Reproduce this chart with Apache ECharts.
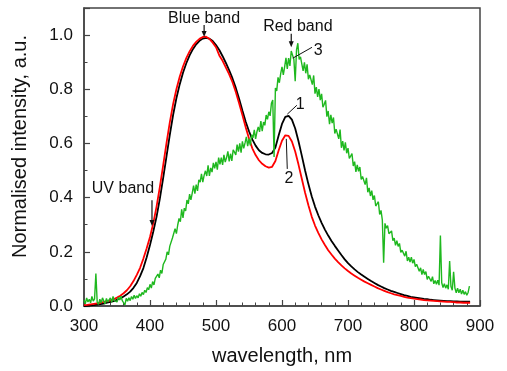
<!DOCTYPE html>
<html>
<head>
<meta charset="utf-8">
<script src="https://cdn.jsdelivr.net/npm/echarts@6/dist/echarts.min.js"></script>
<style>
  html, body { margin: 0; padding: 0; background: #fff; }
  #chart { width: 507px; height: 371px; }
</style>
</head>
<body>
<div id="chart"></div>
<script>
// Spectra 1 and 2: sampled every 5 nm from 300 to 885 nm
const bandStart = 300;
const bandStep = 5;

// Spectrum 1 (black)
const spectrum1 = [
  0.000,0.001,0.002,0.003,0.005,0.007,0.009,0.012,0.015,0.018,   // 300-345
  0.023,0.028,0.035,0.043,0.053,0.067,0.085,0.110,0.140,0.180,   // 350-395
  0.225,0.275,0.330,0.397,0.473,0.552,0.632,0.705,0.767,0.818,   // 400-445
  0.861,0.896,0.925,0.948,0.966,0.979,0.987,0.990,0.987,0.978,   // 450-495
  0.963,0.945,0.922,0.897,0.870,0.840,0.805,0.765,0.722,0.680,   // 500-545
  0.645,0.615,0.592,0.575,0.565,0.560,0.559,0.565,0.585,0.630,   // 550-595
  0.672,0.698,0.702,0.688,0.655,0.608,0.555,0.500,0.450,0.405,   // 600-645
  0.367,0.335,0.307,0.282,0.260,0.240,0.222,0.205,0.188,0.172,   // 650-695
  0.158,0.146,0.135,0.125,0.116,0.108,0.100,0.092,0.085,0.078,   // 700-745
  0.072,0.066,0.061,0.056,0.052,0.048,0.044,0.040,0.037,0.034,   // 750-795
  0.032,0.030,0.028,0.026,0.025,0.023,0.022,0.021,0.020,0.019,   // 800-845
  0.018,0.018,0.017,0.017,0.016,0.016,0.016,0.016                // 850-885
];

// Spectrum 2 (red)
const spectrum2 = [
  0.003,0.004,0.006,0.008,0.010,0.012,0.015,0.018,0.021,0.025,   // 300-345
  0.031,0.038,0.047,0.058,0.073,0.092,0.115,0.141,0.175,0.213,   // 350-395
  0.255,0.306,0.368,0.441,0.520,0.601,0.678,0.745,0.800,0.846,   // 400-445
  0.884,0.915,0.940,0.960,0.975,0.986,0.993,0.994,0.986,0.972,   // 450-495
  0.955,0.925,0.905,0.880,0.855,0.826,0.790,0.748,0.705,0.660,   // 500-545
  0.618,0.582,0.557,0.538,0.525,0.516,0.511,0.514,0.535,0.575,   // 550-595
  0.610,0.630,0.628,0.607,0.570,0.522,0.470,0.418,0.372,0.330,   // 600-645
  0.297,0.270,0.246,0.225,0.206,0.190,0.175,0.162,0.150,0.139,   // 650-695
  0.129,0.120,0.112,0.104,0.097,0.090,0.084,0.078,0.072,0.066,   // 700-745
  0.061,0.056,0.051,0.047,0.043,0.040,0.037,0.034,0.031,0.029,   // 750-795
  0.027,0.025,0.024,0.022,0.021,0.020,0.019,0.018,0.017,0.016,   // 800-845
  0.015,0.015,0.014,0.013,0.013,0.012,0.012,0.012                // 850-885
];

// Spectrum 3 (green, noisy): sampled every 2 nm from 300 to 884 nm
const green3Start = 300;
const green3Step = 2;
const spectrum3 = [
  0.022,0.008,0.030,0.015,0.025,  0.012,0.035,0.018,0.026,0.120,   // 300-318
  0.014,0.006,0.025,0.012,0.030,  0.018,0.008,0.028,0.015,0.022,   // 320-338
  0.030,0.014,0.035,0.020,0.026,  0.015,0.032,0.022,0.036,0.020,   // 340-358
  0.012,0.004,0.028,0.018,0.030,  0.020,0.035,0.025,0.040,0.028,   // 360-378
  0.038,0.030,0.045,0.036,0.050,  0.042,0.058,0.050,0.068,0.060,   // 380-398
  0.080,0.066,0.090,0.078,0.102,  0.095,0.118,0.104,0.132,0.120,   // 400-418
  0.153,0.147,0.173,0.200,0.189,  0.221,0.214,0.251,0.254,0.285,   // 420-438
  0.267,0.299,0.323,0.311,0.357,  0.325,0.361,0.351,0.391,0.377,   // 440-458
  0.413,0.392,0.417,0.444,0.415,  0.448,0.425,0.466,0.457,0.488,   // 460-478
  0.457,0.482,0.499,0.480,0.519,  0.480,0.510,0.494,0.528,0.508,   // 480-498
  0.532,0.503,0.548,0.523,0.548,  0.521,0.558,0.531,0.548,0.571,   // 500-518
  0.534,0.562,0.536,0.576,0.568,  0.558,0.596,0.570,0.600,0.566,   // 520-538
  0.608,0.582,0.602,0.624,0.590,  0.618,0.593,0.632,0.621,0.650,   // 540-558
  0.617,0.643,0.661,0.643,0.683,  0.645,0.679,0.667,0.705,0.689,   // 560-578
  0.717,0.702,0.748,0.760,0.550,  0.805,0.794,0.844,0.824,0.858,   // 580-598
  0.883,0.853,0.883,0.916,0.875,  0.915,0.886,0.941,0.940,0.910,   // 600-618
  0.830,0.945,0.970,0.910,0.920,  0.915,0.868,0.899,0.859,0.892,   // 620-638
  0.837,0.853,0.858,0.817,0.851,  0.784,0.808,0.772,0.801,0.760,   // 640-658
  0.783,0.734,0.745,0.759,0.699,  0.720,0.671,0.706,0.675,0.696,   // 660-678
  0.637,0.653,0.658,0.617,0.651,  0.584,0.609,0.574,0.604,0.564,   // 680-698
  0.583,0.545,0.553,0.563,0.517,  0.533,0.495,0.521,0.497,0.513,   // 700-718
  0.467,0.478,0.481,0.448,0.473,  0.420,0.436,0.406,0.426,0.392,   // 720-738
  0.408,0.369,0.376,0.385,0.338,  0.353,0.318,0.160,0.305,0.287,   // 740-758
  0.297,0.267,0.273,0.277,0.241,  0.251,0.224,0.241,0.220,0.231,   // 760-778
  0.198,0.206,0.208,0.184,0.202,  0.166,0.180,0.162,0.180,0.158,   // 780-798
  0.172,0.145,0.154,0.159,0.128,  0.141,0.116,0.135,0.116,0.127,   // 800-818
  0.098,0.110,0.113,0.091,0.108,  0.082,0.094,0.080,0.095,0.077,   // 820-838
  0.260,0.086,0.068,0.082,0.066,  0.078,0.062,0.166,0.072,0.058,   // 840-858
  0.126,0.066,0.049,0.066,0.049,  0.062,0.044,0.058,0.043,0.053,   // 860-878
  0.040,0.050,0.073                                                // 880-884
];

// Axis ranges and tick spacing
const xTicks = { min: 300, max: 900, step: 100 };
const yTicks = { min: 0, max: 1.1, step: 0.2 };

// Annotations in data units: text anchors, arrows and leader lines
const bandLabels = [
  { text: 'Blue band', at: [482, 1.061] },
  { text: 'Red band', at: [624, 1.032] },
  { text: 'UV band', at: [359, 0.432] },
  { text: '3', at: [655, 0.944] },
  { text: '1', at: [627.5, 0.744] },
  { text: '2', at: [610.5, 0.47] }
];
const bandArrows = [
  { from: [482, 1.037], to: [482, 0.993] },
  { from: [614, 1.005], to: [614, 0.955] },
  { from: [403, 0.39], to: [403, 0.295] }
];
const leaderLines = [
  { from: [645.5, 0.955], to: [616.5, 0.915] },
  { from: [622.5, 0.741], to: [608, 0.708] },
  { from: [606.5, 0.617], to: [608, 0.506] }
];

const sampled = (start, step, ys) => ys.map((v, i) => [start + i * step, v]);

const FONT = '"Liberation Sans", Arial, sans-serif';
const AXIS_COLOR = '#444';

const chart = echarts.init(document.getElementById('chart'), null, { renderer: 'canvas' });

const option = {
  animation: false,
  backgroundColor: '#fff',
  grid: {
    left: 84, right: 27, top: 8, bottom: 59,
    show: true, borderColor: AXIS_COLOR, borderWidth: 1.5, backgroundColor: 'transparent'
  },
  xAxis: {
    type: 'value',
    min: xTicks.min, max: xTicks.max, interval: xTicks.step,
    name: 'wavelength, nm',
    nameLocation: 'middle',
    nameGap: 40,
    nameTextStyle: { fontFamily: FONT, fontSize: 20, color: '#111' },
    axisLine: { show: true, lineStyle: { color: AXIS_COLOR, width: 1.5 } },
    axisTick: { show: true, inside: true, length: 6, lineStyle: { color: AXIS_COLOR, width: 1.2 } },
    minorTick: { show: true, splitNumber: 5, length: 3.5, lineStyle: { color: AXIS_COLOR, width: 1 } },
    axisLabel: { fontFamily: FONT, fontSize: 17, color: '#111', margin: 12 },
    splitLine: { show: false }
  },
  yAxis: {
    type: 'value',
    min: yTicks.min, max: yTicks.max, interval: yTicks.step,
    name: 'Normalised intensity, a.u.',
    nameLocation: 'middle',
    nameGap: 54,
    nameTextStyle: { fontFamily: FONT, fontSize: 20, color: '#111', padding: [0, 0, 0, 21] },
    axisLine: { show: true, lineStyle: { color: AXIS_COLOR, width: 1.5 } },
    axisTick: { show: true, inside: true, length: 6, lineStyle: { color: AXIS_COLOR, width: 1.2 } },
    minorTick: { show: true, splitNumber: 2, length: 3.5, lineStyle: { color: AXIS_COLOR, width: 1 } },
    axisLabel: {
      fontFamily: FONT, fontSize: 17, color: '#111', margin: 11,
      showMaxLabel: false,
      formatter: v => (Math.abs(v / yTicks.step - Math.round(v / yTicks.step)) < 1e-6 ? v.toFixed(1) : '')
    },
    splitLine: { show: false }
  },
  series: [
    {
      name: '1', type: 'line', data: sampled(bandStart, bandStep, spectrum1),
      showSymbol: false,
      lineStyle: { color: '#000', width: 1.8 }, z: 2
    },
    {
      name: '2', type: 'line', data: sampled(bandStart, bandStep, spectrum2),
      showSymbol: false,
      lineStyle: { color: '#ff0000', width: 1.8 }, z: 3
    },
    {
      name: '3', type: 'line', data: sampled(green3Start, green3Step, spectrum3),
      showSymbol: false,
      lineStyle: { color: '#1fb81f', width: 1.4 }, z: 4
    }
  ]
};

chart.setOption(option);

// Annotation layer positioned through the chart's own coordinate conversion
function drawAnnotations() {
  const px = p => chart.convertToPixel({ gridIndex: 0 }, p);
  const els = [];
  bandLabels.forEach(l => {
    const [x, y] = px(l.at);
    els.push({
      type: 'text', x: x, y: y, z: 10,
      style: { text: l.text, fontFamily: FONT, fontSize: 16, fill: '#111', align: 'center', verticalAlign: 'middle' }
    });
  });
  bandArrows.forEach(a => {
    const [x1, y1] = px(a.from);
    const [x2, y2] = px(a.to);
    els.push({
      type: 'line', z: 10,
      shape: { x1: x1, y1: y1, x2: x2, y2: y2 - 4 },
      style: { stroke: '#111', lineWidth: 1.2 }
    });
    els.push({
      type: 'polygon', z: 10,
      shape: { points: [[x2 - 2.5, y2 - 6], [x2 + 2.5, y2 - 6], [x2, y2]] },
      style: { fill: '#111' }
    });
  });
  leaderLines.forEach(l => {
    const [x1, y1] = px(l.from);
    const [x2, y2] = px(l.to);
    els.push({
      type: 'line', z: 10,
      shape: { x1: x1, y1: y1, x2: x2, y2: y2 },
      style: { stroke: '#111', lineWidth: 1 }
    });
  });
  chart.setOption({ graphic: { elements: els } });
}
drawAnnotations();
</script>
</body>
</html>
